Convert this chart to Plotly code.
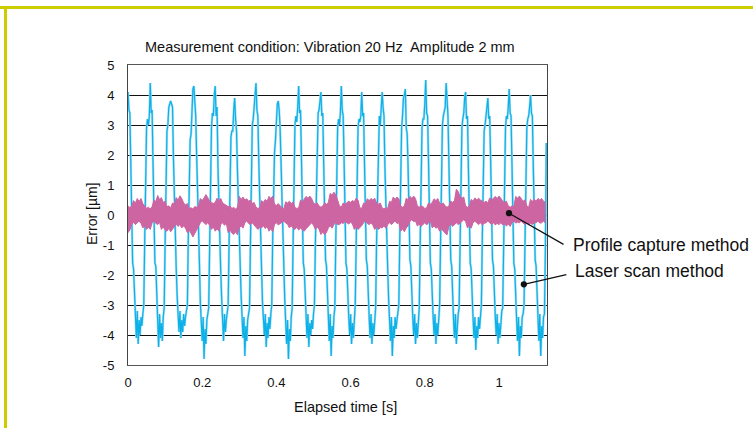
import numpy as np
import plotly.graph_objects as go

# ---------------- data ----------------
LASER_SAMPLE_S = 0.0025      # laser-scan samples
PROFILE_SAMPLE_S = 0.005     # profile-capture envelope samples

laser_scan_error_um = [
    4.1, 3.5, 3.4, 1.6, 0.2, -1.6, -1.8, -2.8, -3.3, -4.1, -3.2, -4.3, -3.5, -4.0, -3.4, -3.7, -3.3,
    -3.0, -0.9, 1.0, 2.9, 3.2, 3.0, 3.3, 4.4, 3.4, 3.5, 1.7, 0.3, -1.6, -1.7, -2.8, -3.4, -4.4, -3.3, -4.1, -3.6, -4.2, -3.4,
    -3.1, -1.0, 0.9, 2.8, 3.0, 3.6, 3.7, 3.8, 3.7, 3.6, 1.9, 0.4, -1.5, -1.8, -2.7, -3.3, -3.9, -3.2, -4.1, -3.5, -3.9, -3.3, -3.7, -3.4, -3.2,
    -3.0, -0.8, 1.1, 2.5, 2.7, 3.3, 4.2, 4.3, 3.9, 3.3, 2.0, 0.5, -1.3, -1.6, -2.9, -3.5, -4.2, -3.4, -4.8, -3.8, -4.3, -3.5, -3.3,
    -3.1, -1.1, 1.0, 2.9, 3.4, 3.3, 4.0, 4.3, 3.3, 3.6, 1.6, 0.2, -1.6, -1.9, -2.8, -3.4, -4.2, -3.3, -3.9, -3.5, -3.2,
    -3.0, -0.9, 0.8, 2.6, 2.8, 2.8, 3.5, 3.9, 3.2, 2.8, 1.5, 0.3, -1.4, -1.7, -2.7, -3.3, -4.1, -3.4, -4.7, -3.7, -4.2, -3.5, -3.2,
    -3.1, -1.0, 0.9, 3.0, 3.2, 3.6, 4.1, 4.4, 3.5, 3.3, 1.8, 0.4, -1.5, -1.8, -2.9, -3.4, -4.0, -3.3, -4.4, -3.6, -4.1, -3.4, -3.8, -3.3,
    -3.0, -0.8, 1.2, 2.1, 2.5, 3.4, 3.7, 3.8, 3.5, 2.9, 1.5, 0.2, -1.4, -1.7, -2.8, -3.5, -4.3, -3.5, -4.8, -3.8, -4.2, -3.4,
    -3.1, -0.9, 1.0, 3.0, 3.3, 3.1, 3.6, 4.3, 3.4, 3.5, 1.9, 0.4, -1.6, -1.8, -2.8, -3.4, -4.1, -3.3, -4.4, -3.6, -4.0, -3.5, -3.8, -3.3,
    -3.0, -1.0, 0.9, 2.8, 3.4, 3.5, 3.9, 4.1, 3.3, 3.4, 1.7, 0.3, -1.5, -1.7, -2.8, -3.4, -4.2, -3.3, -4.7, -3.7, -4.1, -3.4,
    -3.1, -0.9, 1.0, 2.9, 3.2, 3.0, 3.4, 4.3, 3.5, 3.3, 1.8, 0.4, -1.6, -1.8, -2.9, -3.4, -4.0, -3.3, -4.3, -3.6, -4.1, -3.4,
    -3.0, -1.0, 0.8, 2.9, 3.2, 3.1, 3.3, 4.1, 3.3, 3.4, 1.7, 0.3, -1.5, -1.7, -2.8, -3.4, -4.1, -3.3, -4.3, -3.6, -4.0, -3.3,
    -3.1, -0.9, 1.0, 2.8, 3.3, 3.0, 3.7, 4.1, 3.6, 3.3, 1.6, 0.3, -1.5, -1.8, -2.8, -3.4, -4.2, -3.4, -4.7, -3.7, -4.1, -3.4, -3.8, -3.5, -3.2,
    -3.0, -0.8, 1.1, 2.9, 3.3, 3.9, 4.0, 4.2, 2.9, 2.7, 1.6, 0.3, -1.5, -1.7, -2.8, -3.4, -4.0, -3.3, -4.3, -3.6, -4.1, -3.4,
    -3.1, -1.0, 0.9, 2.9, 3.2, 3.2, 3.7, 4.5, 3.4, 3.3, 1.8, 0.4, -1.6, -1.8, -2.9, -3.4, -4.0, -3.3, -4.3, -3.6, -4.0, -3.4,
    -3.0, -0.9, 1.0, 3.0, 3.3, 3.5, 3.6, 4.4, 3.6, 3.3, 1.7, 0.3, -1.5, -1.7, -2.8, -3.5, -4.1, -3.3, -4.3, -3.6, -3.3,
    -3.1, -1.0, 0.9, 2.9, 3.2, 3.4, 3.9, 4.1, 3.2, 3.3, 1.6, 0.2, -1.6, -1.8, -2.9, -3.4, -4.1, -3.4, -4.5, -3.7, -4.1, -3.4, -3.8, -3.3,
    -3.0, -0.8, 1.0, 2.8, 3.0, 3.4, 3.6, 3.9, 3.2, 3.3, 1.8, 0.4, -1.5, -1.7, -2.8, -3.4, -4.0, -3.3, -4.3, -3.6, -4.1, -3.4, -3.2,
    -3.1, -0.9, 1.1, 2.9, 3.3, 3.2, 3.6, 4.2, 3.4, 3.3, 1.7, 0.3, -1.6, -1.8, -2.9, -3.5, -4.2, -3.4, -4.7, -3.7, -4.1, -3.4, -3.3,
    -3.0, -1.0, 0.9, 2.9, 3.2, 3.3, 3.6, 4.0, 3.4, 3.3, 1.6, 0.3, -1.5, -1.7, -2.8, -3.4, -4.2, -3.3, -4.7, -3.7, -4.1, -3.4, -3.3, -1.2, 2.4,
]

profile_upper_um = [
    0.30, 0.25, 0.30, 0.48, 0.40, 0.55, 0.45, 0.55, 0.38, 0.30,
    0.22, 0.26, 0.20, 0.28, 0.50, 0.45, 0.65, 0.52, 0.58, 0.42,
    0.46, 0.28, 0.30, 0.24, 0.40, 0.36, 0.58, 0.50, 0.64, 0.55,
    0.40, 0.34, 0.38, 0.22, 0.24, 0.20, 0.28, 0.26, 0.32, 0.55,
    0.48, 0.57, 0.68, 0.58, 0.46, 0.42, 0.38, 0.42, 0.56, 0.48,
    0.55, 0.40, 0.36, 0.32, 0.28, 0.30, 0.22, 0.25, 0.20, 0.26,
    0.62, 0.52, 0.60, 0.50, 0.54, 0.46, 0.50, 0.38, 0.42, 0.26,
    0.22, 0.24, 0.48, 0.42, 0.52, 0.46, 0.62, 0.55, 0.63, 0.36,
    0.32, 0.38, 0.30, 0.24, 0.20, 0.44, 0.40, 0.46, 0.38, 0.44,
    0.25, 0.22, 0.24, 0.50, 0.44, 0.52, 0.62, 0.56, 0.63, 0.55,
    0.40, 0.36, 0.40, 0.30, 0.26, 0.30, 0.40, 0.36, 0.42, 0.72,
    0.66, 0.76, 0.68, 0.50, 0.30, 0.26, 0.40, 0.36, 0.42, 0.46,
    0.42, 0.48, 0.44, 0.56, 0.50, 0.24, 0.22, 0.40, 0.36, 0.54,
    0.48, 0.55, 0.50, 0.56, 0.40, 0.36, 0.40, 0.24, 0.20, 0.24,
    0.22, 0.46, 0.42, 0.60, 0.52, 0.60, 0.54, 0.30, 0.26, 0.30,
    0.56, 0.50, 0.62, 0.56, 0.63, 0.55, 0.30, 0.26, 0.30, 0.28,
    0.22, 0.24, 0.40, 0.36, 0.42, 0.54, 0.48, 0.55, 0.40, 0.36,
    0.40, 0.30, 0.26, 0.30, 0.46, 0.42, 0.48, 0.86, 0.78, 0.62,
    0.56, 0.60, 0.30, 0.26, 0.30, 0.52, 0.46, 0.57, 0.50, 0.56,
    0.50, 0.46, 0.42, 0.46, 0.40, 0.57, 0.50, 0.56, 0.62, 0.55,
    0.63, 0.56, 0.46, 0.42, 0.46, 0.30, 0.26, 0.30, 0.28, 0.62,
    0.56, 0.63, 0.52, 0.46, 0.50, 0.30, 0.26, 0.52, 0.46, 0.52,
    0.46, 0.55, 0.50, 0.55, 0.46, 0.42,
]

profile_lower_um = [
    -0.59, -0.50, -0.32, -0.24, -0.32, -0.26, -0.20, -0.28, -0.43, -0.36,
    -0.48, -0.40, -0.48, -0.26, -0.20, -0.28, -0.32, -0.24, -0.48, -0.40,
    -0.50, -0.54, -0.45, -0.56, -0.46, -0.37, -0.30, -0.38, -0.32, -0.43,
    -0.36, -0.44, -0.59, -0.50, -0.62, -0.73, -0.62, -0.48, -0.40, -0.26,
    -0.20, -0.28, -0.32, -0.26, -0.34, -0.48, -0.40, -0.54, -0.46, -0.54,
    -0.32, -0.26, -0.34, -0.28, -0.59, -0.50, -0.60, -0.65, -0.56, -0.66,
    -0.43, -0.36, -0.44, -0.26, -0.20, -0.28, -0.32, -0.26, -0.33, -0.40,
    -0.48, -0.42, -0.43, -0.36, -0.45, -0.38, -0.54, -0.46, -0.56, -0.32,
    -0.26, -0.33, -0.28, -0.26, -0.20, -0.27, -0.30, -0.43, -0.36, -0.44,
    -0.48, -0.40, -0.50, -0.44, -0.48, -0.54, -0.46, -0.38, -0.32, -0.26,
    -0.34, -0.48, -0.40, -0.48, -0.65, -0.56, -0.66, -0.58, -0.43, -0.36,
    -0.44, -0.32, -0.26, -0.32, -0.32, -0.26, -0.28, -0.22, -0.26, -0.30,
    -0.24, -0.30, -0.48, -0.40, -0.48, -0.43, -0.36, -0.26, -0.20, -0.28,
    -0.32, -0.26, -0.34, -0.48, -0.40, -0.48, -0.42, -0.43, -0.36, -0.44,
    -0.32, -0.26, -0.32, -0.26, -0.20, -0.28, -0.26, -0.54, -0.46, -0.56,
    -0.43, -0.36, -0.21, -0.16, -0.22, -0.20, -0.37, -0.30, -0.38, -0.32,
    -0.26, -0.33, -0.26, -0.20, -0.43, -0.36, -0.44, -0.40, -0.54, -0.46,
    -0.54, -0.60, -0.66, -0.37, -0.30, -0.38, -0.32, -0.26, -0.32, -0.26,
    -0.21, -0.16, -0.22, -0.43, -0.36, -0.44, -0.26, -0.20, -0.27, -0.32,
    -0.26, -0.33, -0.28, -0.26, -0.20, -0.27, -0.32, -0.26, -0.33, -0.28,
    -0.32, -0.26, -0.33, -0.30, -0.37, -0.30, -0.38, -0.26, -0.20, -0.27,
    -0.24, -0.26, -0.20, -0.27, -0.32, -0.26, -0.33, -0.28, -0.32, -0.26,
    -0.26, -0.20, -0.27, -0.26, -0.20, -0.27,
]

y_tick_values = [-5, -4, -3, -2, -1, 0, 1, 2, 3, 4, 5]
y_tick_labels = ["-5", "-4", "-3", "-2", "-1", "0", "1", "2", "3", "4", "5"]
x_tick_values = [0, 0.2, 0.4, 0.6, 0.8, 1.0]
x_tick_labels = ["0", "0.2", "0.4", "0.6", "0.8", "1"]

TITLE = "Measurement condition: Vibration 20 Hz\u00a0 Amplitude 2 mm"
LABEL_PROFILE = "Profile capture method"
LABEL_LASER = "Laser scan method"
# annotated points (time s, error um)
profile_point = (1.027, 0.06)
laser_point = (1.067, -2.31)

# ---------------- figure ----------------
laser_t = np.arange(len(laser_scan_error_um)) * LASER_SAMPLE_S
profile_t = np.arange(len(profile_upper_um)) * PROFILE_SAMPLE_S

BLUE = "#0cb1e8"
BLUE_LIGHT = "#a6def5"
PINK = "#cc65a2"
FONT = "Liberation Sans, Arial, Helvetica, sans-serif"

fig = go.Figure()
# faint halo under the laser-scan line (the reference line looks doubled)
fig.add_trace(go.Scatter(x=laser_t, y=laser_scan_error_um, mode="lines",
                         line=dict(color=BLUE_LIGHT, width=2.4), hoverinfo="skip",
                         showlegend=False))
fig.add_trace(go.Scatter(x=laser_t, y=laser_scan_error_um, mode="lines",
                         line=dict(color=BLUE, width=1.2), hoverinfo="skip",
                         showlegend=False))
fig.add_trace(go.Scatter(x=profile_t, y=profile_lower_um, mode="lines",
                         line=dict(color=PINK, width=1), showlegend=False,
                         hoverinfo="skip"))
fig.add_trace(go.Scatter(x=profile_t, y=profile_upper_um, mode="lines",
                         line=dict(color=PINK, width=1), fill="tonexty",
                         fillcolor=PINK, showlegend=False, hoverinfo="skip"))

W, H = 753, 428
L, R, T, B = 128, 206, 65, 63
pw, ph = W - L - R, H - T - B


def px(x):
    return (x - L) / pw


def py(y):
    return (H - B - y) / ph


fig.update_layout(
    width=W, height=H, autosize=False,
    margin=dict(l=L, r=R, t=T, b=B, pad=0),
    paper_bgcolor="white", plot_bgcolor="white",
    font=dict(family=FONT, size=13, color="#111"),
    xaxis=dict(range=[0, 1.1294], tickvals=x_tick_values, ticktext=x_tick_labels,
               showgrid=False, zeroline=False, showline=True, mirror=True,
               linecolor="#555", linewidth=1, ticks="", ticklabelstandoff=5,
               tickfont=dict(size=13)),
    yaxis=dict(range=[-5, 5], tickvals=y_tick_values, ticktext=y_tick_labels,
               showgrid=True, gridcolor="#111", gridwidth=1, zeroline=False,
               showline=True, mirror=True, linecolor="#444", linewidth=1,
               ticks="", ticklabelstandoff=10, tickfont=dict(size=13)),
    shapes=[
        dict(type="line", xref="paper", yref="paper", x0=px(0), x1=px(760),
             y0=py(7.5), y1=py(7.5), line=dict(color="#cccc00", width=3)),
        dict(type="line", xref="paper", yref="paper", x0=px(5.5), x1=px(5.5),
             y0=py(6), y1=py(440), line=dict(color="#cccc00", width=3)),
    ],
    annotations=[
        dict(text=TITLE, xref="paper", yref="paper", x=px(330), y=py(47),
             xanchor="center", yanchor="middle", showarrow=False,
             font=dict(size=14.5)),
        dict(text="Elapsed time [s]", xref="paper", yref="paper", x=px(345),
             y=py(407), xanchor="center", yanchor="middle", showarrow=False,
             font=dict(size=14.5)),
        dict(text="Error [µm]", xref="paper", yref="paper", x=px(92),
             y=py(214), xanchor="center", yanchor="middle", showarrow=False,
             textangle=-90, font=dict(size=14)),
        dict(text=LABEL_PROFILE, xref="paper", yref="paper", x=px(571),
             y=py(245), xanchor="left", yanchor="middle", showarrow=False,
             font=dict(size=17.5)),
        dict(text=LABEL_LASER, xref="paper", yref="paper", x=px(573),
             y=py(271), xanchor="left", yanchor="middle", showarrow=False,
             font=dict(size=17.5)),
        dict(text="", x=profile_point[0], y=profile_point[1], xref="x", yref="y",
             showarrow=True, ax=56, ay=32, arrowhead=6, arrowsize=1.2,
             arrowwidth=1.3, arrowcolor="#111", standoff=0),
        dict(text="", x=laser_point[0], y=laser_point[1], xref="x", yref="y",
             showarrow=True, ax=44, ay=-10, arrowhead=6, arrowsize=1.2,
             arrowwidth=1.3, arrowcolor="#111", standoff=0),
    ],
)

fig.write_html("out.html",
               config={"displayModeBar": False, "staticPlot": True},
               post_script="document.body.style.margin='0px';"
                           "document.body.style.overflow='hidden';")
